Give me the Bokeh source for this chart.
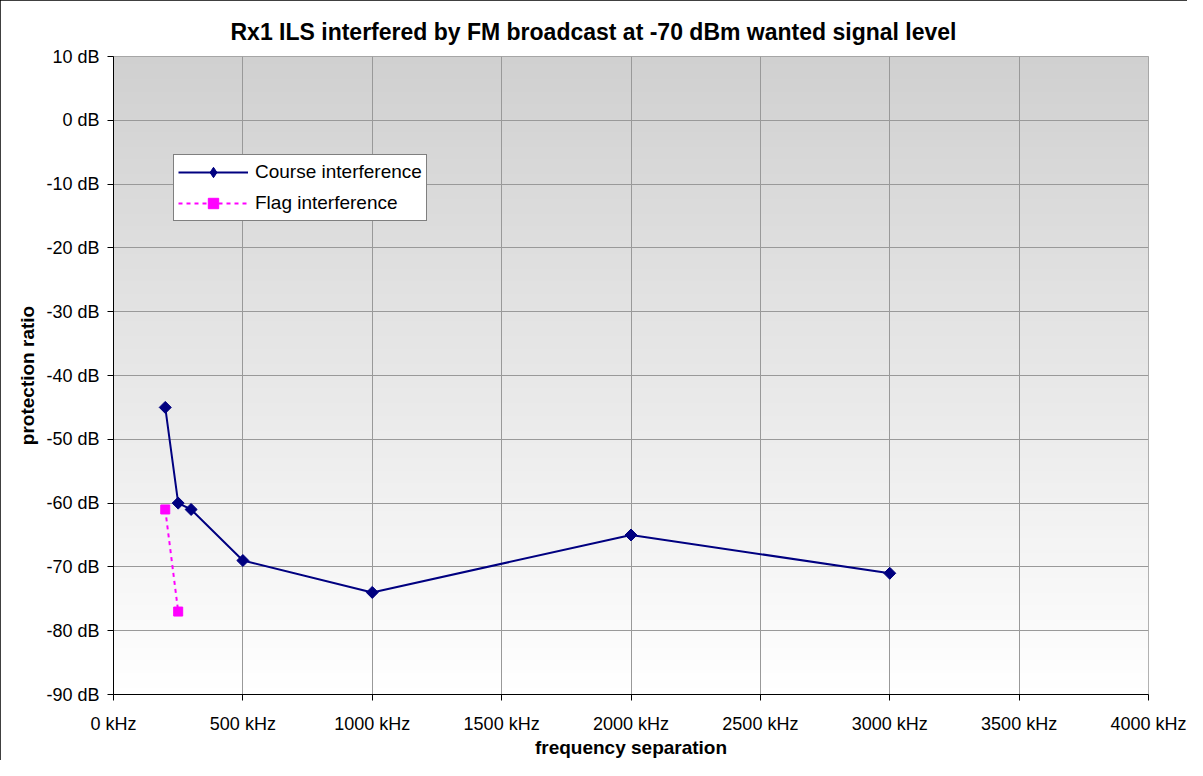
import numpy as np
from bokeh.plotting import figure
from bokeh.models import FixedTicker, PrintfTickFormatter, Legend, LegendItem, Range1d, Title
from bokeh.embed import file_html
from bokeh.resources import INLINE

# ---------------- data ----------------
title_text = "Rx1 ILS interfered by FM broadcast at -70 dBm wanted signal level"
x_label = "frequency separation"
y_label = "protection ratio"

course_label = "Course interference"
course_khz = [200, 250, 300, 500, 1000, 2000, 3000]
course_db = [-45, -60, -61, -69, -74, -65, -71]

flag_label = "Flag interference"
flag_khz = [200, 250]
flag_db = [-61, -77]

x_ticks = [0, 500, 1000, 1500, 2000, 2500, 3000, 3500, 4000]
y_ticks = [-90, -80, -70, -60, -50, -40, -30, -20, -10, 0, 10]
x_min, x_max = 0, 4000
y_min, y_max = -90, 10

FONT = "Liberation Sans"
NAVY = "#000080"
MAGENTA = "#FF00FF"
GRID = "#999999"

p = figure(width=1187, height=760, output_backend="svg", toolbar_location=None, title=None,
           x_range=Range1d(x_min, x_max), y_range=Range1d(y_min, y_max),
           min_border_left=113, min_border_right=39, min_border_top=56, min_border_bottom=66)
p.background_fill_color = "white"
p.border_fill_color = "white"
p.outline_line_color = GRID
p.outline_line_width = 1
p.styles = {"outline": "1px solid black", "outline-offset": "-1px"}

# gradient background of the plot area (grey at top -> white at bottom)
n = 256
t = np.linspace(0.0, 1.0, n)
g = np.round(255 - 47 * t).astype(np.uint8)
img = np.zeros((n, 2), dtype=np.uint32)
view = img.view(dtype=np.uint8).reshape((n, 2, 4))
view[:, :, 0] = g[:, None]
view[:, :, 1] = g[:, None]
view[:, :, 2] = g[:, None]
view[:, :, 3] = 255
p.image_rgba(image=[img], x=x_min, y=y_min, dw=x_max - x_min, dh=y_max - y_min, level="image")

# series
course_line = p.line(course_khz, course_db, line_color=NAVY, line_width=2)
# diamond key (drawn beneath the rotated squares, used for the legend symbol)
course_key = p.scatter(course_khz, course_db, marker="diamond", size=10,
                       fill_color=NAVY, line_color=NAVY)
course_pts = p.scatter(course_khz, course_db, marker="square", angle=np.pi / 4, size=8.5,
                       fill_color=NAVY, line_color=NAVY)
flag_line = p.line(flag_khz, flag_db, line_color=MAGENTA, line_width=2, line_dash="4 4")
flag_pts = p.scatter(flag_khz, flag_db, marker="square", size=9,
                     fill_color=MAGENTA, line_color=MAGENTA)

# axes
p.xaxis.ticker = FixedTicker(ticks=x_ticks)
p.yaxis.ticker = FixedTicker(ticks=y_ticks)
p.xaxis.formatter = PrintfTickFormatter(format="%d kHz")
p.yaxis.formatter = PrintfTickFormatter(format="%d dB")
p.xaxis.axis_label = x_label
p.yaxis.axis_label = y_label
for ax in (p.xaxis[0], p.yaxis[0]):
    ax.major_tick_out = 6
    ax.major_tick_in = 0
    ax.minor_tick_out = 0
    ax.minor_tick_in = 0
    ax.axis_line_color = "black"
    ax.axis_line_width = 1
    ax.major_tick_line_color = "black"
    ax.major_label_text_font = FONT
    ax.major_label_text_font_size = "18px"
    ax.major_label_text_color = "black"
    ax.axis_label_text_font = FONT
    ax.axis_label_text_font_style = "bold"
    ax.axis_label_text_font_size = "19px"
    ax.axis_label_text_color = "black"
p.xaxis.major_label_standoff = 13
p.yaxis.major_label_standoff = 8
p.yaxis.axis_label_standoff = 5
p.xaxis.axis_label_standoff = 0

p.xgrid.grid_line_color = GRID
p.ygrid.grid_line_color = GRID
p.xgrid.grid_line_width = 1
p.ygrid.grid_line_width = 1

# legend
legend = Legend(items=[LegendItem(label=course_label, renderers=[course_line, course_key]),
                       LegendItem(label=flag_label, renderers=[flag_line, flag_pts])],
                location=(60, 473), orientation="vertical",
                border_line_color="black", border_line_width=1,
                background_fill_color="white", background_fill_alpha=1.0,
                label_text_font=FONT, label_text_font_size="19px", label_text_color="black",
                glyph_width=70, glyph_height=26, label_height=26, spacing=5, padding=4,
                label_standoff=7, margin=0)
p.add_layout(legend, "center")

# small empty spacer between the frame and the title, then the title itself
p.add_layout(Title(text=" ", text_font_size="4px", standoff=0), "above")
p.add_layout(Title(text=title_text, align="left", offset=117,
                   text_font=FONT, text_font_style="bold", text_font_size="23px",
                   text_color="black"), "above")

open("out.html", "w").write(file_html(p, INLINE))
